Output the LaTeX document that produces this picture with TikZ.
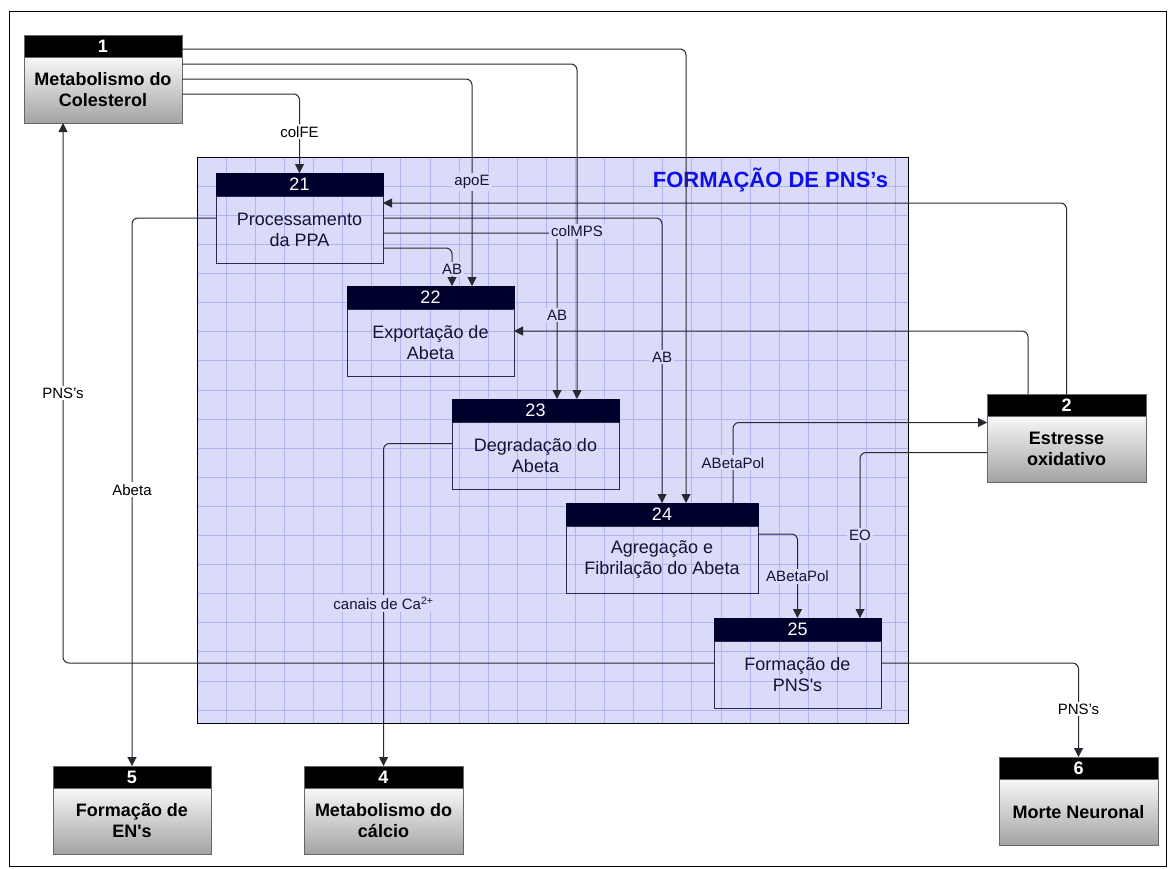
\documentclass[tikz,border=0pt]{standalone}
\usepackage{fontspec}
\setmainfont{Liberation Sans}
\usetikzlibrary{arrows.meta,backgrounds}

\definecolor{regionc}{RGB}{218,218,249}
\definecolor{gridc}{RGB}{178,178,242}
\definecolor{navyhead}{RGB}{0,0,45}
\definecolor{navyline}{RGB}{40,40,80}
\definecolor{navytext}{RGB}{20,20,50}
\definecolor{linec}{RGB}{40,40,50}
\definecolor{titlec}{RGB}{15,15,235}

\tikzset{
  every node/.style={inner sep=0pt, outer sep=0pt},
  ohead/.style={anchor=north west, fill=black, draw=black!60, line width=1pt,
    text=white, font=\fontsize{18}{21}\selectfont\bfseries, minimum height=22pt},
  obody/.style={anchor=north west, draw=black!60, line width=1pt,
    top color=black!3, bottom color=black!36, align=center,
    font=\fontsize{18}{21}\selectfont\bfseries, minimum height=66pt},
  ihead/.style={anchor=north west, fill=navyhead, draw=navyhead, line width=1pt,
    text=white, font=\fontsize{18}{21}\selectfont, minimum height=23pt},
  ibody/.style={anchor=north west, draw=navyline, line width=1pt, text=navytext,
    align=center, font=\fontsize{18}{21}\selectfont, minimum height=67pt},
  conn/.style={draw=linec, line width=1pt, rounded corners=6pt,
    -{Triangle[length=9pt,width=9pt]}},
  lbl/.style={fill=white, text=black, inner sep=2pt, font=\fontsize{15}{17}\selectfont},
  lblin/.style={lbl, fill=regionc, text=navytext},
}

% outer function box: name, x, y, width, number, title
\newcommand\outerbox[6]{%
  \node[ohead, minimum width=#4pt] (h#1) at (#2,#3) {#5};
  \node[obody, minimum width=#4pt] (b#1) at (h#1.south west) {#6};
}
% sub-function box inside the group
\newcommand\innerbox[6]{%
  \node[ihead, minimum width=#4pt] (h#1) at (#2,#3) {#5};
  \node[ibody, minimum width=#4pt] (b#1) at (h#1.south west) {#6};
}

\begin{document}
\begin{tikzpicture}[x=1pt,y=-1pt]
\useasboundingbox (0,0) rectangle (1169,868);

% page, group area and its grid
\begin{scope}[on background layer]
  \fill[white] (0,0) rectangle (1169,868);
  \fill[regionc] (197,157) rectangle (908,723);
  \begin{scope}
    \clip (197,157) rectangle (908,723);
    \foreach \i in {1,...,24}
      \draw[gridc, line width=0.5pt] ({197+29.1*\i},157) -- ({197+29.1*\i},723);
    \foreach \j in {1,...,19}
      \draw[gridc, line width=0.5pt] (197,{157+29.1*\j}) -- (908,{157+29.1*\j});
  \end{scope}
\end{scope}
\draw[black, line width=1pt] (9,11) rectangle (1166,866);
\draw[black, line width=1pt] (197,157) rectangle (908,723);
\node[anchor=east, text=titlec, font=\fontsize{22}{24}\selectfont\bfseries] (title) at (888,180) {FORMAÇÃO DE PNS’s};

% boxes
\outerbox{1}{24}{35}{158}{1}{Metabolismo do\\Colesterol}
\outerbox{2}{987}{394}{159}{2}{Estresse\\oxidativo}
\outerbox{5}{53}{766}{158}{5}{Formação de\\EN\textquotesingle s}
\outerbox{4}{304}{766}{159}{4}{Metabolismo do\\cálcio}
\outerbox{6}{999}{757}{159}{6}{Morte Neuronal}

\innerbox{21}{216}{173}{167}{21}{Processamento\\da PPA}
\innerbox{22}{347}{286}{167}{22}{Exportação de\\Abeta}
\innerbox{23}{452}{399}{167}{23}{Degradação do\\Abeta}
\innerbox{24}{566}{503}{192}{24}{Agregação e\\Fibrilação do Abeta}
\innerbox{25}{714}{618}{167}{25}{Formação de\\PNS\textquotesingle s}

% connectors
\draw[conn] ([yshift=-3pt]h1.east) -| ([xshift=24pt]h24.north);
\draw[conn] ([yshift=26pt]b1.east) -| coordinate[pos=0.75] (LcolMPS) ([xshift=41.5pt]h23.north);
\draw[conn] ([yshift=11pt]b1.east) -| coordinate[pos=0.749] (LapoE) ([xshift=41.5pt]h22.north);
\draw[conn] ([yshift=-4pt]b1.east) -| coordinate[pos=0.74] (LcolFE) (h21.north);
\draw[conn] ([yshift=11.5pt]b21.west) -| coordinate[pos=0.748] (LAbeta) (h5.north);
\draw[conn] ([yshift=11.5pt]b21.east) -| coordinate[pos=0.744] (LABa) (h24.north);
\draw[conn] ([yshift=-3.5pt]b21.east) -| coordinate[pos=0.747] (LABb) ([xshift=21.5pt]h23.north);
\draw[conn] ([yshift=-18.5pt]b21.east) -| coordinate[pos=0.776] (LABc) ([xshift=21.5pt]h22.north);
\draw[conn] (h2.north) |- ([yshift=26.5pt]b21.east);
\draw[conn] ([xshift=-38.5pt]h2.north) |- ([yshift=11.5pt]b22.east);
\draw[conn] ([yshift=12pt]b23.west) -| coordinate[pos=0.748] (LCa) (h4.north);
\draw[conn] ([xshift=71pt]h24.north) |- coordinate[pos=0.25] (LABPa) ([yshift=26.5pt]b2.west);
\draw[conn] ([yshift=-3.5pt]b2.west) -| coordinate[pos=0.75] (LEO) ([xshift=62.5pt]h25.north);
\draw[conn] ([yshift=25.5pt]b24.east) -| coordinate[pos=0.75] (LABPb) (h25.north);
\draw[conn] ([yshift=11.5pt]b25.west) -| coordinate[pos=0.75] (LPNSa) ([xshift=-40pt]b1.south);
\draw[conn] ([yshift=11.5pt]b25.east) -| coordinate[pos=0.745] (LPNSb) (h6.north);

% connector labels
\node[lbl] at (LcolFE) {colFE};
\node[lblin] at (LapoE) {apoE};
\node[lblin] at (LcolMPS) {colMPS};
\node[lbl] at (LAbeta) {Abeta};
\node[lblin] at (LABa) {AB};
\node[lblin] at (LABb) {AB};
\node[lblin] at (LABc) {AB};
\node[lblin] at (LCa) {canais de Ca\textsuperscript{2+}};
\node[lblin] at (LABPa) {ABetaPol};
\node[lblin] at (LEO) {EO};
\node[lblin] at (LABPb) {ABetaPol};
\node[lbl] at (LPNSa) {PNS’s};
\node[lbl] at (LPNSb) {PNS’s};
\end{tikzpicture}
\end{document}
